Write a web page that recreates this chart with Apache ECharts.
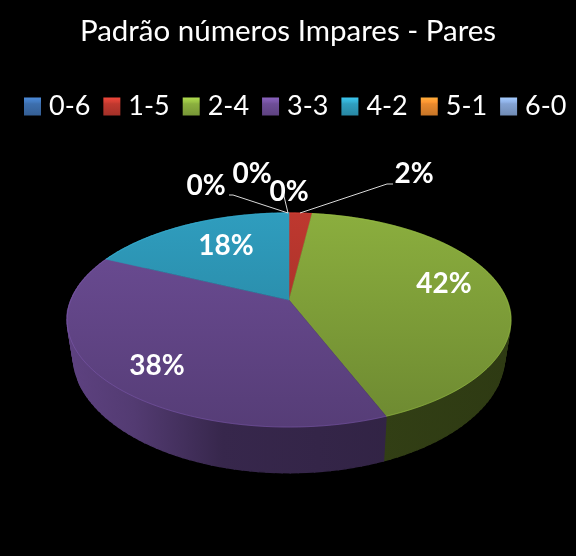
<!DOCTYPE html>
<html><head><meta charset="utf-8">
<style>html,body{margin:0;padding:0;background:#000}#c{width:576px;height:556px}</style>
<script src="https://cdn.jsdelivr.net/npm/echarts@6/dist/echarts.min.js"></script>
</head><body><div id="c"></div>
<script>
const titleText = 'Padrão números Impares - Pares';
const categories = ['0-6','1-5','2-4','3-3','4-2','5-1','6-0'];
const values = [0,2,42,38,18,0,0];
const colors = ['#3d6fae','#c0392f','#8cb03f','#6e4e98','#2f9fc0','#ea8a2e','#84a3d4'];
const sideColors = ['#3d6fae','#c0392f','#6e8a2e','#6e4e98','#2f9fc0','#ea8a2e','#84a3d4'];
const labelAnchors = [[206,186],[414,174],[444,284],[157,366],[226,246],[252,174],[289,192]];
const leaders = [[[288,213],[233,195],[229,195]],[[300,213],[387,184],[393,184]],null,null,null,[[288,213],[283,192]],null];

const cx=289, cy0=300, k=0.187, a=218, b=103.3;
const total = values.reduce((s,v)=>s+v,0);
function topPt(f){const t=2*Math.PI*f,u=Math.sin(t),v=-Math.cos(t),w=1-k*v;return [cx+a*u/w,cy0+b*v/w];}
function botPt(p){return [cx+(p[0]-cx)*0.973,355+(p[1]-320)*1.10];}
function startFrac(i){let s=0;for(let j=0;j<i;j++)s+=values[j];return s/total;}
function arc(i){const f0=startFrac(i),f1=f0+values[i]/total,n=Math.max(2,Math.ceil((f1-f0)*200)),r=[];
  for(let j=0;j<=n;j++)r.push(topPt(f0+(f1-f0)*j/n));return r;}
function shade(h,f){const n=parseInt(h.slice(1),16);const c=s=>Math.min(255,Math.round(((n>>s)&255)*f));return `rgb(${c(16)},${c(8)},${c(0)})`;}
const G=echarts.graphic.LinearGradient;
function topFill(c){return new G(0,213,0,427,[{offset:0,color:shade(c,0.99)},{offset:1,color:shade(c,0.78)}],true);}
function sideFill(c){return new G(67,0,511,0,[{offset:0,color:shade(c,0.85)},{offset:0.15,color:shade(c,0.75)},{offset:0.35,color:shade(c,0.5)},{offset:1,color:shade(c,0.42)}],true);}
function swatch(c){return new G(0,0,0,1,[{offset:0,color:shade(c,1.25)},{offset:0.25,color:shade(c,1.1)},{offset:0.35,color:c},{offset:1,color:shade(c,0.85)}]);}

function sideItem(params){
  const i=params.dataIndex; if(!values[i])return {type:'group',children:[]};
  const top=arc(i),fill=sideFill(sideColors[i]),kids=[];
  for(let j=0;j<top.length-1;j++){
    kids.push({type:'polygon',shape:{points:[top[j],top[j+1],botPt(top[j+1]),botPt(top[j])]},style:{fill,stroke:fill,lineWidth:1.3}});
  }
  return {type:'group',children:kids};
}
function topItem(i){return function(){
  const kids=[];
  if(values[i]){
    const pts=arc(i),fill=topFill(colors[i]);
    kids.push({type:'polygon',shape:{points:[[cx,cy0]].concat(pts)},style:{fill,stroke:fill,lineWidth:0.5}});
    kids.push({type:'polyline',shape:{points:pts},style:{fill:'none',stroke:shade(colors[i],1.3),lineWidth:0.8,opacity:0.45}});
  }
  if(leaders[i])kids.push({type:'polyline',z2:5,shape:{points:leaders[i]},style:{fill:'none',stroke:'#d9d9d9',lineWidth:1}});
  const p=labelAnchors[i];
  kids.push({type:'text',z2:10,style:{text:Math.round(values[i]/total*100)+'%',x:p[0],y:p[1],fill:'#fff',
    font:'bold 28px Lato',align:'center',verticalAlign:'middle'}});
  return {type:'group',children:kids};
};}
const series=[{name:'sides',type:'custom',coordinateSystem:'none',z:1,silent:true,animation:false,
  data:values.map(v=>[v]),renderItem:sideItem}];
categories.forEach((n,i)=>series.push({name:n,type:'custom',coordinateSystem:'none',z:2+(values[i]?0:1),animation:false,
  itemStyle:{color:swatch(colors[i])},data:[[values[i]]],renderItem:topItem(i)}));
const chart=echarts.init(document.getElementById('c'),null,{renderer:'canvas'});
chart.setOption({
  backgroundColor:'#000',animation:false,
  title:{text:titleText,left:'center',top:11,textStyle:{color:'#fff',fontFamily:'Lato',fontWeight:'normal',fontSize:29.5}},
  legend:{data:categories,left:24,top:93,padding:0,icon:'rect',itemWidth:17,itemHeight:18,itemGap:13,
    textStyle:{color:'#fff',fontFamily:'Lato',fontSize:27,padding:[0,0,3,3]},selectedMode:false},
  series
});
</script></body></html>
